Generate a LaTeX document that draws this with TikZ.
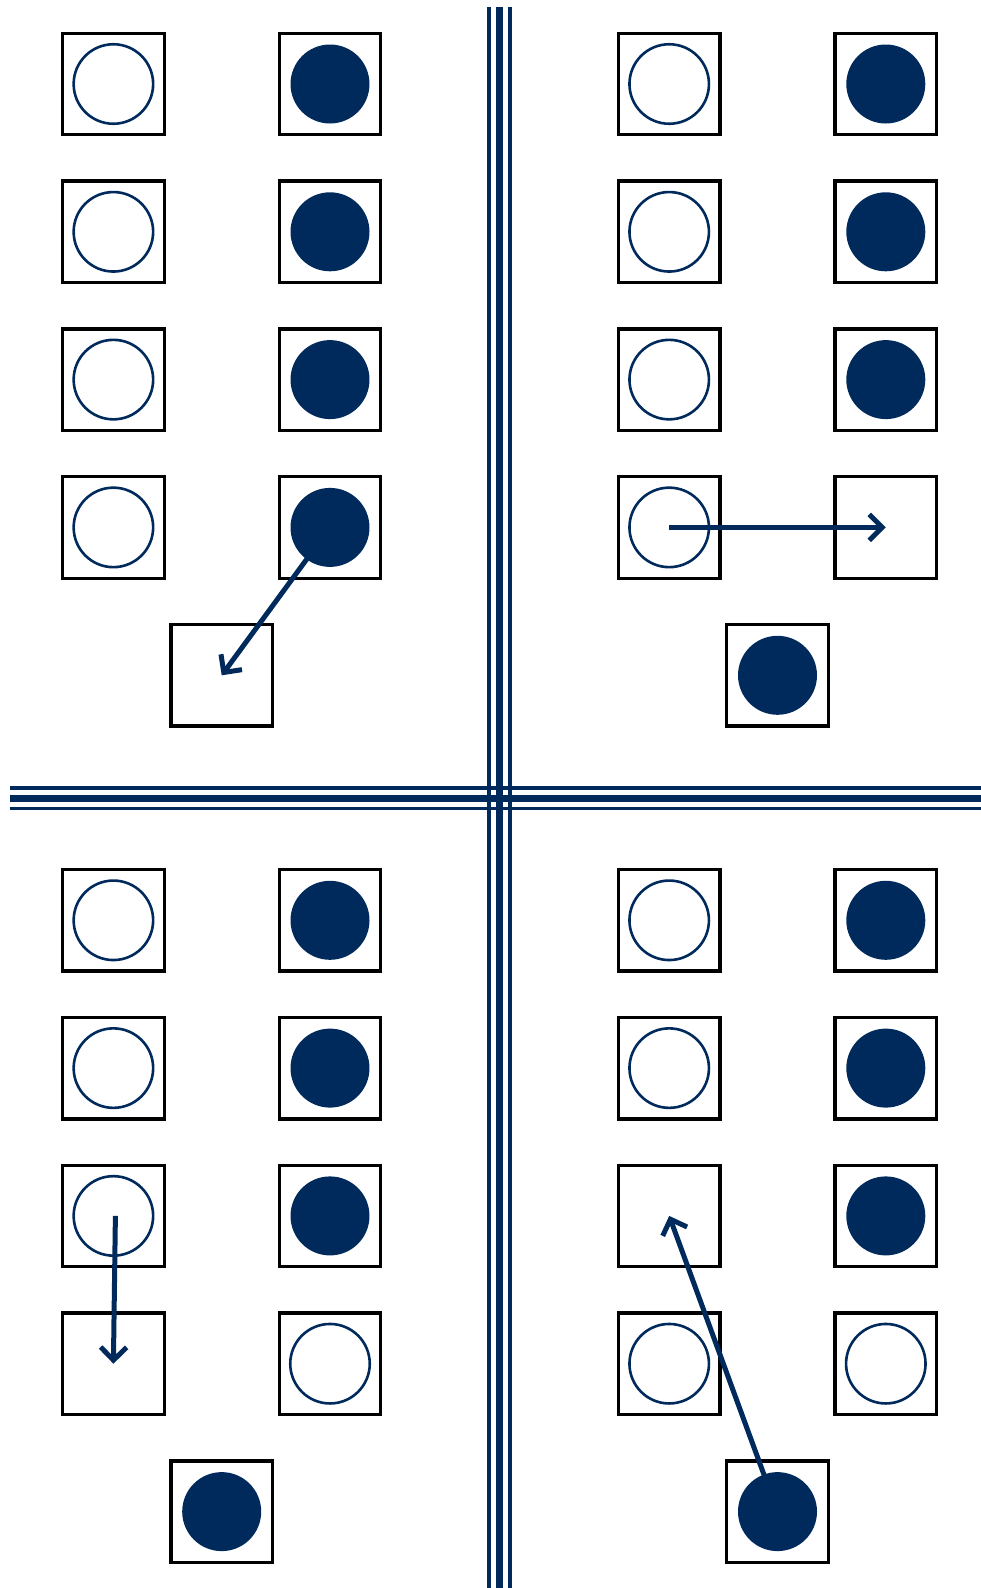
\documentclass[tikz,border=0pt]{standalone}
\usepackage{xcolor}
\usepackage{tikz}
\usetikzlibrary{arrows.meta, positioning}
\definecolor{navy}{RGB}{0,42,92}

\begin{document}
\begin{tikzpicture}[x=1pt, y=-1pt,
  cell/.style={draw=black, line width=3.3pt, minimum size=101.5pt, inner sep=0pt},
  hollow/.style={circle, draw=navy, line width=2.6pt, minimum size=79.5pt, inner sep=0pt},
  solid/.style={circle, fill=navy, minimum size=79pt, inner sep=0pt},
  move/.style={draw=navy, line width=5pt, -{Straight Barb[length=13pt, width=26pt]}},
  wall/.style={draw=navy}
]
  \useasboundingbox (0,0) rectangle (981,1588);
  % Separators
  \draw[wall, line width=3.6pt] (489,7) -- (489,1588);
  \draw[wall, line width=7pt] (499.5,7) -- (499.5,1588);
  \draw[wall, line width=3.6pt] (510,7) -- (510,1588);
  \draw[wall, line width=3.2pt] (10,788) -- (981,788);
  \draw[wall, line width=7.4pt] (10,798.5) -- (981,798.5);
  \draw[wall, line width=3.2pt] (10,808.5) -- (981,808.5);
  % Cells of each panel
  \foreach \q/\ox/\oy in {tl/0/0, tr/555.8/0, bl/0/836.3, br/555.8/836.3} {
    \foreach \r in {1,...,4} {
      \node[cell] (\q-a\r) at (\ox+113.4, \oy+84+147.8*\r-147.8) {};
      \node[cell] (\q-b\r) at (\ox+330, \oy+84+147.8*\r-147.8) {};
    }
    \node[cell] (\q-x) at (\ox+221.7, \oy+675.3) {};
  }
  % Top left
  \foreach \r in {1,...,4} {
    \node[hollow] at (tl-a\r) {};
    \node[solid] at (tl-b\r) {};
  }
  % Top right
  \foreach \r in {1,...,4} {
    \node[hollow] at (tr-a\r) {};
  }
  \foreach \r in {1,...,3} {
    \node[solid] at (tr-b\r) {};
  }
  \node[solid] at (tr-x) {};
  % Bottom left
  \foreach \r in {1,...,3} {
    \node[hollow] at (bl-a\r) {};
    \node[solid] at (bl-b\r) {};
  }
  \node[hollow] at (bl-b4) {};
  \node[solid] at (bl-x) {};
  % Bottom right
  \foreach \c in {a1, a2, a4, b4} {
    \node[hollow] at (br-\c) {};
  }
  \foreach \r in {1,...,3} {
    \node[solid] at (br-b\r) {};
  }
  \node[solid] at (br-x) {};
  % Moves
  \draw[move] (tl-b4.center) -- (tl-x.center);
  \draw[move] (tr-a4.center) -- (tr-b4.center);
  \draw[move] ([xshift=2pt]bl-a3.center) -- (bl-a4.center);
  \draw[move] (br-x.center) -- (br-a3.center);
\end{tikzpicture}
\end{document}
